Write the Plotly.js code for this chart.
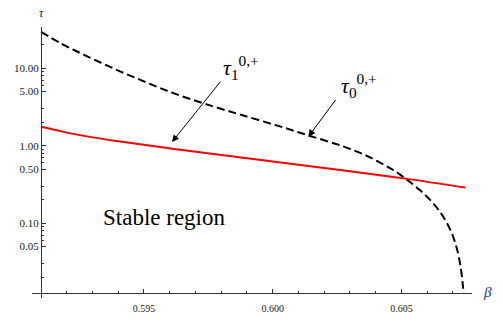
<html>
<head>
    <script src="https://cdn.plot.ly/plotly-3.0.1.min.js"></script>
    <style>
        body { margin: 0; padding: 0; background: white; }
        #chart { width: 503px; height: 322px; }
    </style>
</head>
<body>
    <div id="chart"></div>
    <script>
        // tau_0^{0,+} (dashed black curve)
        const beta0 = [0.59100, 0.59178, 0.59255, 0.59333, 0.59411, 0.59488, 0.59566, 0.59644,
                       0.59744, 0.59873, 0.60028, 0.60145, 0.60274, 0.60359, 0.60417, 0.60469,
                       0.60514, 0.60572, 0.60624, 0.60663, 0.60696, 0.60717, 0.60730, 0.60738,
                       0.60741];
        const tau0 = [29.6, 20.9, 15.6, 11.8, 9.01, 7.04, 5.50, 4.41,
                      3.42, 2.53, 1.78, 1.34, 0.982, 0.759, 0.607, 0.486,
                      0.381, 0.268, 0.181, 0.121, 0.0741, 0.0451, 0.0275, 0.0168,
                      0.0126];

        // tau_1^{0,+} (red curve)
        const beta1 = [0.59100, 0.59174, 0.59251, 0.59407, 0.59601, 0.59924, 0.60262, 0.60514, 0.60747];
        const tau1 = [1.76, 1.548, 1.374, 1.133, 0.926, 0.674, 0.486, 0.377, 0.290];

        const xTickVals = [0.595, 0.600, 0.605];
        const xTickText = ['0.595', '0.600', '0.605'];
        const yTickVals = [0.05, 0.1, 0.5, 1, 5, 10];
        const yTickText = ['0.05', '0.10', '0.50', '1.00', '5.00', '10.00'];
        const yMinorVals = [0.02, 0.03, 0.06, 0.07, 0.08, 0.09, 0.2, 0.3, 0.6, 0.7, 0.8, 0.9,
                            2, 3, 6, 7, 8, 9, 20];

        const serif = 'Liberation Serif';

        const traceTau0 = {
            x: beta0,
            y: tau0,
            type: 'scatter',
            mode: 'lines',
            line: { color: 'black', width: 2, dash: '8px,4px', shape: 'spline', smoothing: 1 },
            hoverinfo: 'skip'
        };

        const traceTau1 = {
            x: beta1,
            y: tau1,
            type: 'scatter',
            mode: 'lines',
            line: { color: '#ff0000', width: 2, shape: 'spline', smoothing: 1 },
            hoverinfo: 'skip'
        };

        const layout = {
            width: 503,
            height: 322,
            margin: { l: 32, r: 31, t: 27, b: 24 },
            paper_bgcolor: 'white',
            plot_bgcolor: 'white',
            showlegend: false,
            font: { family: serif },
            xaxis: {
                range: [0.590649, 0.607743],
                anchor: 'free',
                position: 0.01845,
                showgrid: false,
                zeroline: false,
                showline: true,
                linecolor: '#333',
                linewidth: 1,
                ticks: 'inside',
                ticklen: 4,
                tickcolor: '#333',
                tickvals: xTickVals,
                ticktext: xTickText,
                ticklabelstandoff: 6,
                tickfont: { family: serif, size: 10, color: '#222' },
                minor: { ticks: 'inside', ticklen: 2, tickcolor: '#333', dtick: 0.001, tick0: 0.591 }
            },
            yaxis: {
                type: 'log',
                range: [-1.964, 1.533],
                anchor: 'free',
                position: 0.0205,
                showgrid: false,
                zeroline: false,
                showline: true,
                linecolor: '#333',
                linewidth: 1,
                ticks: 'inside',
                ticklen: 4,
                tickcolor: '#333',
                tickvals: yTickVals,
                ticktext: yTickText,
                tickfont: { family: serif, size: 11, color: '#222' },
                minor: { ticks: 'inside', ticklen: 2, tickcolor: '#333', tickvals: yMinorVals }
            },
            annotations: [
                // arrows
                {
                    x: 0.596088, y: 0.0477, xref: 'x', yref: 'y',
                    text: '', showarrow: true, ax: 49.7, ay: -62,
                    arrowhead: 2, arrowsize: 1.4, arrowwidth: 1, arrowcolor: 'black'
                },
                {
                    x: 0.601383, y: 0.116, xref: 'x', yref: 'y',
                    text: '', showarrow: true, ax: 28.4, ay: -38.4,
                    arrowhead: 2, arrowsize: 1.4, arrowwidth: 1, arrowcolor: 'black'
                },
                // curve labels
                {
                    x: (221 - 32) / 440, y: (298 - 67) / 271, xref: 'paper', yref: 'paper',
                    text: '<i>τ</i><sub>1</sub><sup>0,+</sup>', showarrow: false,
                    xanchor: 'left', yanchor: 'middle',
                    font: { family: serif, size: 22, color: 'black' }
                },
                {
                    x: (339 - 32) / 440, y: (298 - 85) / 271, xref: 'paper', yref: 'paper',
                    text: '<i>τ</i><sub>0</sub><sup>0,+</sup>', showarrow: false,
                    xanchor: 'left', yanchor: 'middle',
                    font: { family: serif, size: 22, color: 'black' }
                },
                {
                    x: (164 - 32) / 440, y: (298 - 217) / 271, xref: 'paper', yref: 'paper',
                    text: 'Stable region', showarrow: false,
                    xanchor: 'center', yanchor: 'middle',
                    font: { family: serif, size: 23, color: 'black' }
                },
                // axis labels
                {
                    x: (41 - 32) / 440, y: (298 - 13) / 271, xref: 'paper', yref: 'paper',
                    text: '<i>τ</i>', showarrow: false,
                    xanchor: 'center', yanchor: 'middle',
                    font: { family: serif, size: 12, color: '#222' }
                },
                {
                    x: (487 - 32) / 440, y: (298 - 292) / 271, xref: 'paper', yref: 'paper',
                    text: '<i>β</i>', showarrow: false,
                    xanchor: 'center', yanchor: 'middle',
                    font: { family: serif, size: 15, color: '#1a3a8a' }
                }
            ]
        };

        Plotly.newPlot('chart', [traceTau0, traceTau1], layout, { displayModeBar: false, staticPlot: true });
    </script>
</body>
</html>
